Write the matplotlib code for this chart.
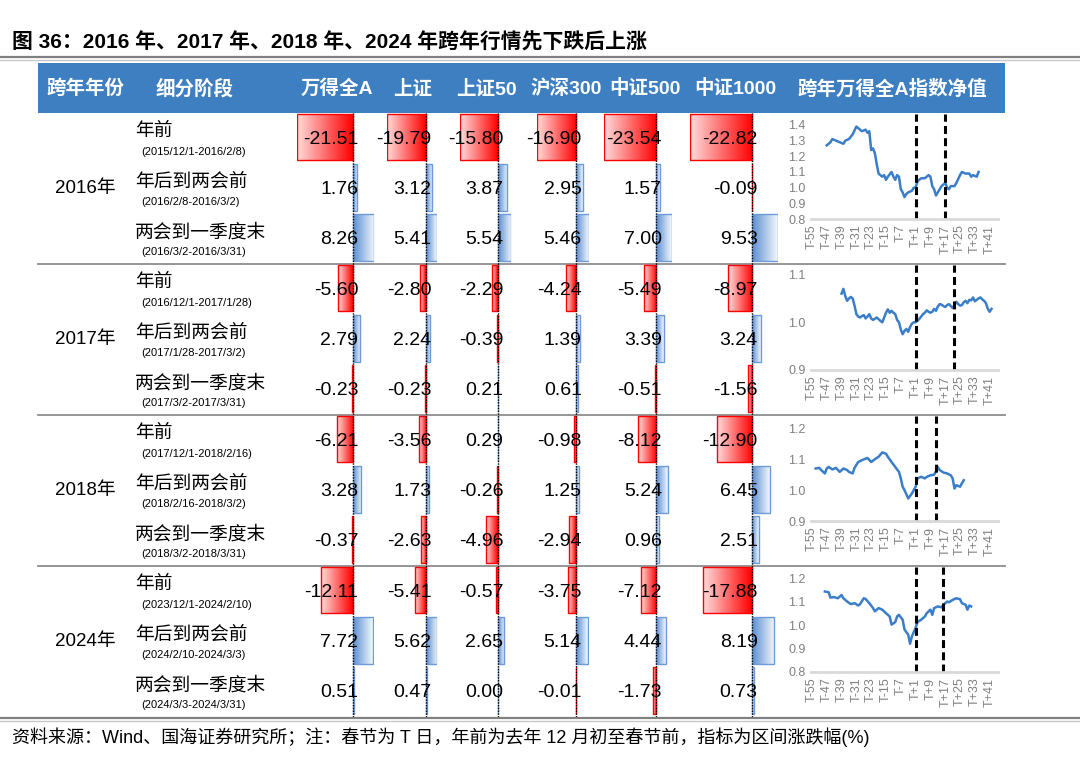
import numpy as np
import matplotlib
matplotlib.use('Agg')
import matplotlib.pyplot as plt
from matplotlib.colors import LinearSegmentedColormap
from matplotlib.patches import Rectangle

plt.rcParams['font.family'] = ['Liberation Sans', 'Noto Sans CJK SC', 'DejaVu Sans']

# ---- table data ----
years = ['2016年', '2017年', '2018年', '2024年']
stages = ['年前', '年后到两会前', '两会到一季度末']
periods = [['(2015/12/1-2016/2/8)', '(2016/2/8-2016/3/2)', '(2016/3/2-2016/3/31)'],
           ['(2016/12/1-2017/1/28)', '(2017/1/28-2017/3/2)', '(2017/3/2-2017/3/31)'],
           ['(2017/12/1-2018/2/16)', '(2018/2/16-2018/3/2)', '(2018/3/2-2018/3/31)'],
           ['(2023/12/1-2024/2/10)', '(2024/2/10-2024/3/3)', '(2024/3/3-2024/3/31)']]
headers = ['跨年年份', '细分阶段', '万得全A', '上证', '上证50', '沪深300', '中证500', '中证1000',
           '跨年万得全A指数净值']

wind_a = [-21.51, 1.76, 8.26, -5.60, 2.79, -0.23, -6.21, 3.28, -0.37, -12.11, 7.72, 0.51]
sh = [-19.79, 3.12, 5.41, -2.80, 2.24, -0.23, -3.56, 1.73, -2.63, -5.41, 5.62, 0.47]
sh50 = [-15.80, 3.87, 5.54, -2.29, -0.39, 0.21, 0.29, -0.26, -4.96, -0.57, 2.65, 0.00]
hs300 = [-16.90, 2.95, 5.46, -4.24, 1.39, 0.61, -0.98, 1.25, -2.94, -3.75, 5.14, -0.01]
zz500 = [-23.54, 1.57, 7.00, -5.49, 3.39, -0.51, -8.12, 5.24, 0.96, -7.12, 4.44, -1.73]
zz1000 = [-22.82, -0.09, 9.53, -8.97, 3.24, -1.56, -12.90, 6.45, 2.51, -17.88, 8.19, 0.73]

# ---- net value of Wind A around spring festival (T = trading days) ----
t_2016 = [-47, -45, -44, -42, -40, -38, -37, -35, -33, -31, -29, -28, -26, -25, -24, -23, -22, -21,
          -20, -19, -17, -16, -15, -14, -12, -11, -10, -9, -8, -7, -6, -5, -4, -3, -1, 0, 1, 2, 4,
          6, 8, 9, 10, 11, 12, 13, 14, 15, 17, 18, 19, 20, 22, 23, 25, 26, 28, 30, 31, 32, 34, 35]
nav_2016 = [1.27, 1.29, 1.31, 1.30, 1.29, 1.28, 1.30, 1.31, 1.34, 1.39, 1.37, 1.36, 1.37, 1.35,
            1.36, 1.24, 1.25, 1.22, 1.15, 1.09, 1.07, 1.08, 1.05, 1.07, 1.10, 1.07, 1.05, 1.08,
            1.07, 0.99, 0.97, 0.94, 0.96, 0.97, 0.98, 1.00, 1.00, 1.04, 1.06, 1.06, 1.08, 1.07,
            1.01, 0.99, 0.95, 0.97, 0.99, 1.01, 1.03, 1.00, 0.99, 1.01, 1.01, 1.03, 1.08, 1.10,
            1.09, 1.09, 1.07, 1.08, 1.07, 1.10]
mark_2016 = [1, 17]

t_2017 = [-39, -38, -37, -36, -35, -34, -33, -32, -31, -30, -29, -28, -27, -26, -25, -24, -23, -22,
          -20, -18, -17, -16, -15, -14, -13, -12, -11, -10, -9, -8, -7, -6, -5, -4, -3, -2, -1, 0,
          1, 2, 3, 4, 5, 6, 7, 8, 9, 10, 11, 12, 13, 14, 15, 16, 17, 18, 19, 20, 21, 22, 23, 24,
          25, 26, 27, 28, 29, 30, 31, 32, 33, 34, 35, 36, 37, 38, 39, 40, 41, 42]
nav_2017 = [1.060, 1.070, 1.055, 1.045, 1.050, 1.053, 1.050, 1.035, 1.017, 1.012, 1.010, 1.013,
            1.015, 1.008, 1.012, 1.017, 1.008, 1.005, 1.010, 1.003, 1.000, 1.010, 1.020, 1.027,
            1.020, 1.024, 1.020, 1.017, 1.005, 1.000, 0.985, 0.975, 0.982, 0.986, 0.980, 0.990,
            0.997, 1.000, 1.000, 1.003, 1.007, 1.012, 1.017, 1.020, 1.025, 1.022, 1.020, 1.022,
            1.028, 1.024, 1.033, 1.038, 1.037, 1.034, 1.032, 1.036, 1.038, 1.034, 1.030, 1.036,
            1.043, 1.038, 1.035, 1.036, 1.042, 1.045, 1.040, 1.047, 1.046, 1.052, 1.044, 1.047,
            1.050, 1.052, 1.048, 1.045, 1.040, 1.028, 1.022, 1.028]
mark_2017 = [1, 22]

t_2018 = [-53, -51, -50, -48, -47, -46, -44, -42, -40, -38, -36, -35, -33, -32, -30, -28, -26, -25,
          -23, -21, -19, -17, -15, -14, -12, -10, -8, -7, -6, -5, -3, -1, 1, 2, 4, 6, 7, 9, 11,
          12, 13, 14, 16, 18, 20, 21, 22, 23, 25, 26, 27]
nav_2018 = [1.070, 1.072, 1.065, 1.054, 1.070, 1.075, 1.067, 1.072, 1.059, 1.070, 1.065, 1.059,
            1.054, 1.072, 1.091, 1.097, 1.102, 1.104, 1.091, 1.100, 1.108, 1.122, 1.118, 1.108,
            1.091, 1.075, 1.059, 1.038, 1.011, 1.000, 0.973, 0.989, 1.011, 1.038, 1.043, 1.038,
            1.043, 1.048, 1.050, 1.061, 1.075, 1.065, 1.057, 1.054, 1.048, 1.038, 1.005, 1.016,
            1.011, 1.022, 1.032]
mark_2018 = [1, 12]

t_2024 = [-48, -46, -45, -43, -41, -39, -38, -36, -34, -32, -30, -29, -27, -26, -24, -22, -21, -19,
          -17, -15, -14, -13, -12, -10, -9, -8, -6, -5, -3, -2, -1, 1, 2, 4, 6, 7, 9, 10, 11, 13,
          15, 16, 18, 19, 21, 23, 25, 26, 28, 29, 30, 31]
nav_2024 = [1.145, 1.142, 1.119, 1.121, 1.116, 1.130, 1.116, 1.102, 1.091, 1.095, 1.085, 1.091,
            1.116, 1.113, 1.095, 1.074, 1.060, 1.074, 1.067, 1.052, 1.045, 1.038, 1.003, 1.014,
            1.038, 1.045, 1.024, 0.982, 0.960, 0.921, 0.953, 0.989, 1.014, 1.024, 1.038, 1.052,
            1.067, 1.045, 1.074, 1.081, 1.077, 1.088, 1.102, 1.099, 1.109, 1.116, 1.112, 1.095,
            1.088, 1.067, 1.085, 1.081]
mark_2024 = [1, 16]

W, H = 1080, 758
fig = plt.figure(figsize=(W / 100, H / 100), dpi=100)
bg = fig.add_axes([0, 0, 1, 1])
bg.set_xlim(0, W)
bg.set_ylim(H, 0)
bg.axis('off')


def box(x0, y0, x1, y1):
    return fig.add_axes([x0 / W, 1 - y1 / H, (x1 - x0) / W, (y1 - y0) / H])


# title and rules
bg.text(12, 42, '图 36：2016 年、2017 年、2018 年、2024 年跨年行情先下跌后上涨',
        fontsize=15, fontweight='bold', va='center')
for y, c, w in [(57, '#808080', 1.6), (59.5, '#c8c8c8', 1.0), (718, '#808080', 1.6), (720.5, '#c8c8c8', 1.0)]:
    bg.plot([0, W], [y, y], color=c, lw=w)

# header band
top0, row_h, blk_h = 113, 151 / 3, 151
bg.add_patch(Rectangle((38, 63), 967, 50, color='#3E7FC1', lw=0))
head_x = [85, 195, 337, 413, 486, 566, 645, 735, 892]
for hx, name in zip(head_x, headers):
    bg.text(hx, 89, name, color='white', fontsize=14, fontweight='bold', ha='center', va='center')

# left labels and separators
for b, yr in enumerate(years):
    top = top0 + b * blk_h
    bg.text(85, top + blk_h / 2, yr, ha='center', va='center', fontsize=13.5)
    for r, st in enumerate(stages):
        rc = top + r * row_h + row_h / 2
        bg.text(135, rc - 6.5, st, va='center', fontsize=13.5)
        bg.text(141, rc + 13.5, periods[b][r], va='center', fontsize=8)
    if b < 3:
        bg.plot([38, 1005], [top + blk_h] * 2, color='#8c8c8c', lw=1.3)

# data bar columns
red = LinearSegmentedColormap.from_list('red', ['#FFDCDC', '#FF0000'])
blue = LinearSegmentedColormap.from_list('blue', ['#5B8ED1', '#F4F8FD'])
grad = np.linspace(0, 1, 128).reshape(1, -1)
series = [wind_a, sh, sh50, hs300, zz500, zz1000]
col_px = [(297, 374), (387, 437), (460, 511), (537, 589), (604, 672), (690, 778)]
for vals, (x0, x1) in zip(series, col_px):
    ax = box(x0, top0, x1, top0 + 4 * blk_h)
    for i, v in enumerate(vals):
        neg = v < 0
        bar = ax.barh(i + 0.475, v, height=0.93, left=0, color='none',
                      edgecolor='#FF0000' if neg else '#6C9BD8', lw=1.0)[0]
        if v != 0:
            im = ax.imshow(grad, cmap=red if neg else blue, aspect='auto', interpolation='bilinear',
                           extent=(min(v, 0), max(v, 0), i + 0.94, i + 0.01))
            im.set_clip_path(bar)
        ax.annotate(f'{v:.2f}', xy=(0, i + 0.52), xytext=(4, 0), textcoords='offset points',
                    ha='right', va='center', fontsize=14, zorder=5)
    ax.axvline(0, color='black', lw=1.0, ls=(0, (1, 1)), zorder=4)
    ax.set_xlim(min(vals), max(vals))
    ax.set_ylim(12, 0)
    ax.axis('off')

# mini line charts
nav_sets = [(t_2016, nav_2016, mark_2016, (0.8, 1.47), [0.8, 0.9, 1.0, 1.1, 1.2, 1.3, 1.4]),
            (t_2017, nav_2017, mark_2017, (0.9, 1.12), [0.9, 1.0, 1.1]),
            (t_2018, nav_2018, mark_2018, (0.9, 1.24), [0.9, 1.0, 1.1, 1.2]),
            (t_2024, nav_2024, mark_2024, (0.8, 1.25), [0.8, 0.9, 1.0, 1.1, 1.2])]
xt = list(range(-55, 46, 8))
for b, (tt, nv, mk, yl, yt) in enumerate(nav_sets):
    top = top0 + b * blk_h
    ax = box(811, top + 1, 998, top + 106)
    ax.patch.set_alpha(0)
    ax.plot(tt, nv, color='#3A7DC8', lw=1.8)
    for m in mk:
        ax.axvline(m, color='black', lw=2.2, ls=(0, (2.6, 1.4)))
    ax.set_xlim(-55.5, 45.5)
    ax.set_ylim(*yl)
    ax.set_yticks(yt)
    ax.set_yticklabels([f'{v:.1f}' for v in yt])
    ax.set_xticks(xt)
    ax.set_xticklabels([f'T{t:+d}' for t in xt], rotation=90)
    ax.tick_params(length=0, labelsize=9, labelcolor='#808080', pad=4)
    for s in ['top', 'right', 'left']:
        ax.spines[s].set_visible(False)
    ax.spines['bottom'].set_color('#d9d9d9')
    ax.spines['bottom'].set_linewidth(2)

bg.text(12, 737, '资料来源：Wind、国海证券研究所；注：春节为 T 日，年前为去年 12 月初至春节前，指标为区间涨跌幅(%)',
        fontsize=13, va='center')

fig.savefig('out.png', dpi=100)
